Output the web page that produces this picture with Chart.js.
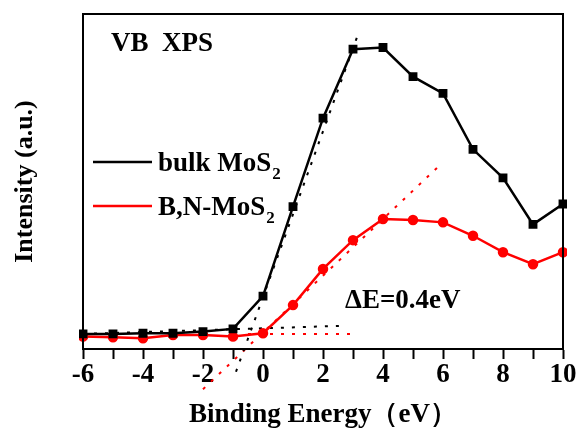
<!DOCTYPE html>
<html>
<head>
<meta charset="utf-8">
<script src="https://cdn.jsdelivr.net/npm/chart.js@4"></script>
<style>
  html, body { margin: 0; padding: 0; background: #fff; }
  #wrap { width: 580px; height: 428px; }
</style>
</head>
<body>
<div id="wrap"><canvas id="vbxps" width="580" height="428"></canvas></div>
<script>
// binding energy (eV)
const energy = [-6, -5, -4, -3, -2, -1, 0, 1, 2, 3, 4, 5, 6, 7, 8, 9, 10];
const bulkMoS2 = [4.5, 4.5, 4.7, 4.7, 5.2, 6.0, 15.8, 42.5, 68.9, 89.5, 90.0, 81.3, 76.3, 59.6, 51.1, 37.2, 43.3];
const bnMoS2 = [3.7, 3.5, 3.2, 4.2, 4.2, 3.7, 4.7, 13.1, 23.9, 32.5, 38.8, 38.5, 37.8, 33.8, 28.9, 25.3, 28.9];

// linear extrapolations of the band edges (dotted)
const bulkEdge = [{x: -0.9, y: -6.8}, {x: 3.18, y: 94.2}];
const bulkBase = [{x: -6, y: 4.5}, {x: 2.57, y: 6.9}];
const bnEdge = [{x: -2.0, y: -12}, {x: 5.84, y: 54.4}];
const bnBase = [{x: -0.5, y: 4.5}, {x: 3.12, y: 4.5}];

const xTickLabels = ['-6', '-4', '-2', '0', '2', '4', '6', '8', '10'];

const serif = '"Liberation Serif", "Times New Roman", serif';

function pts(xs, ys) {
  return xs.map((x, i) => ({x: x, y: ys[i]}));
}

function dotted(data, color) {
  return {
    data: data,
    borderColor: color,
    borderWidth: 2,
    borderDash: [3, 8],
    pointRadius: 0,
    fill: false,
    clip: false
  };
}

const annotations = {
  id: 'annotations',
  afterDraw(chart) {
    const ctx = chart.ctx;
    const a = chart.chartArea;
    ctx.save();
    // frame
    ctx.strokeStyle = '#000';
    ctx.lineWidth = 2;
    ctx.strokeRect(a.left, a.top, a.right - a.left, a.bottom - a.top);

    ctx.fillStyle = '#000';
    ctx.textBaseline = 'alphabetic';
    ctx.font = 'bold 27px ' + serif;
    ctx.fillText('VB  XPS', 111, 51);
    ctx.fillText('\u0394E=0.4eV', 345, 308);

    // legend
    const items = [
      {label: 'bulk MoS', color: '#000', y: 162},
      {label: 'B,N-MoS', color: '#ff0000', y: 206}
    ];
    items.forEach(it => {
      ctx.strokeStyle = it.color;
      ctx.lineWidth = 2.5;
      ctx.beginPath();
      ctx.moveTo(93, it.y);
      ctx.lineTo(152, it.y);
      ctx.stroke();
      ctx.font = 'bold 27px ' + serif;
      ctx.fillStyle = '#000';
      ctx.fillText(it.label, 158, it.y + 9);
      const w = ctx.measureText(it.label).width;
      ctx.font = 'bold 17px ' + serif;
      ctx.fillText('2', 158 + w + 1, it.y + 17);
    });
    ctx.restore();
  }
};

new Chart(document.getElementById('vbxps'), {
  type: 'line',
  data: {
    datasets: [
      {
        label: 'bulk MoS2',
        data: pts(energy, bulkMoS2),
        borderColor: '#000',
        backgroundColor: '#000',
        borderWidth: 2.5,
        pointStyle: 'rect',
        pointRadius: 4.5,
        fill: false,
        clip: 4
      },
      {
        label: 'B,N-MoS2',
        data: pts(energy, bnMoS2),
        borderColor: '#ff0000',
        backgroundColor: '#ff0000',
        borderWidth: 2.5,
        pointStyle: 'circle',
        pointRadius: 4,
        fill: false,
        clip: 4
      },
      dotted(bulkEdge, '#000'),
      dotted(bulkBase, '#000'),
      dotted(bnEdge, '#ff0000'),
      dotted(bnBase, '#ff0000')
    ]
  },
  options: {
    responsive: false,
    animation: false,
    layout: { padding: { top: 14, right: 17, left: 0, bottom: 0 } },
    plugins: {
      legend: { display: false },
      tooltip: { enabled: false }
    },
    scales: {
      x: {
        type: 'linear',
        min: -6,
        max: 10,
        afterFit(scale) { scale.height = 79; },
        border: { display: true, color: '#000', width: 2 },
        grid: {
          drawOnChartArea: false,
          drawTicks: true,
          tickLength: 10,
          tickColor: '#000',
          tickWidth: 2
        },
        ticks: {
          stepSize: 1,
          autoSkip: false,
          maxRotation: 0,
          padding: 0,
          color: '#000',
          font: { family: serif, size: 27, weight: 'bold' },
          callback: (v) => (v % 2 === 0 ? xTickLabels[(v + 6) / 2] : '')
        },
        title: {
          display: true,
          text: 'Binding Energy\uff08eV\uff09',
          color: '#000',
          font: { family: serif, size: 27, weight: 'bold', lineHeight: 1 },
          padding: { top: 0, bottom: -1 }
        }
      },
      y: {
        min: 0,
        max: 100,
        afterFit(scale) { scale.width = 83; },
        border: { display: true, color: '#000', width: 2 },
        grid: { display: false, drawTicks: false },
        ticks: { display: false },
        title: {
          display: true,
          text: 'Intensity (a.u.)',
          color: '#000',
          font: { family: serif, size: 26, weight: 'bold', lineHeight: 1 },
          padding: { top: 12, bottom: 0 }
        }
      }
    }
  },
  plugins: [annotations]
});
</script>
</body>
</html>
